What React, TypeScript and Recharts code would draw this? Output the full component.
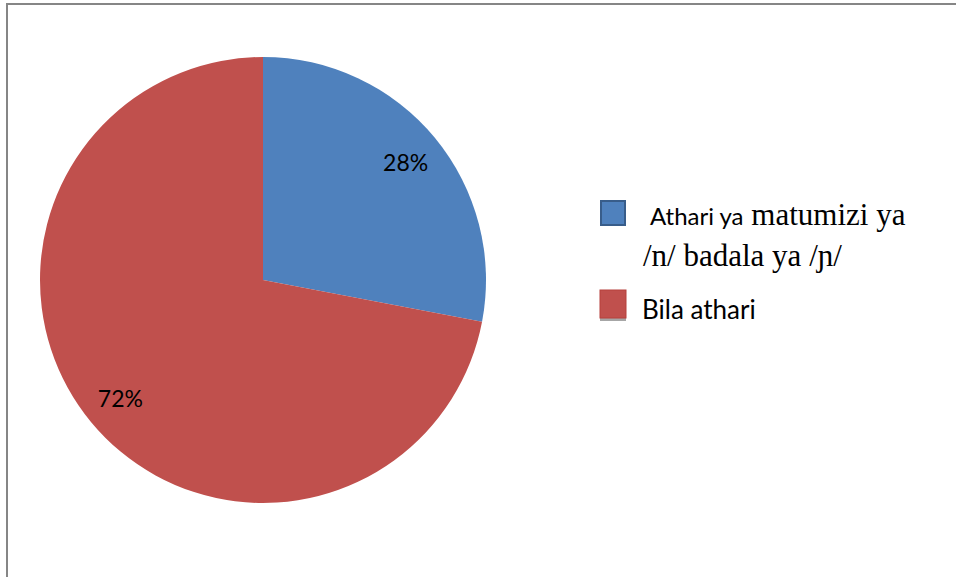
import React from "react";
import { PieChart, Pie, Cell, Legend } from "recharts";

const categories = ["Athari ya matumizi ya /n/ badala ya /ɲ/", "Bila athari"];
const values = [28, 72];
const colors = ["#4f81bd", "#c0504d"];
const borders = ["#385d8a", "#b6403d"];

const data = categories.map((name, i) => ({ name, value: values[i] }));

const RAD = Math.PI / 180;
const sans = "Lato, 'Open Sans', sans-serif";
const serif = "'Liberation Serif', 'DejaVu Serif', serif";

const renderLabel = (props: any) => {
  const { cx, cy, midAngle, outerRadius, percent } = props;
  const r = outerRadius * 0.83;
  const x = cx + r * Math.cos(-midAngle * RAD);
  const y = cy + r * Math.sin(-midAngle * RAD);
  return (
    <text
      x={x}
      y={y}
      textAnchor="middle"
      dominantBaseline="central"
      fill="#000"
      style={{ fontFamily: sans, fontSize: 23 }}
    >
      {`${Math.round(percent * 100)}%`}
    </text>
  );
};

const words0 = categories[0].split(" ");

const LegendContent = () => (
  <svg width={340} height={140} style={{ display: "block" }}>
    <rect x={11} y={11} width={24} height={24} fill={colors[0]} stroke={borders[0]} strokeWidth={2} />
    <text x={60} y={35} fill="#000">
      <tspan style={{ fontFamily: sans, fontSize: 24 }}>{words0.slice(0, 2).join(" ")}</tspan>
      <tspan style={{ fontFamily: serif, fontSize: 31 }}>{" " + words0.slice(2, 4).join(" ")}</tspan>
    </text>
    <text x={53} y={76} fill="#000" style={{ fontFamily: serif, fontSize: 31 }}>
      {words0.slice(4).join(" ")}
    </text>
    <rect x={10} y={128} width={26} height={3} fill="#a6a6a6" />
    <rect x={10} y={100} width={26} height={28} fill={colors[1]} stroke={borders[1]} strokeWidth={1} />
    <text x={52} y={129} fill="#000" style={{ fontFamily: sans, fontSize: 26 }}>
      {categories[1]}
    </text>
  </svg>
);

export default function App() {
  return (
    <div
      style={{
        position: "absolute",
        left: 0,
        top: 0,
        width: 956,
        height: 577,
        background: "#fff",
      }}
    >
      <div style={{ position: "absolute", left: 6, top: 3, width: 950, height: 2, background: "#868686" }} />
      <div style={{ position: "absolute", left: 6, top: 3, width: 2, height: 574, background: "#868686" }} />
      <PieChart
        width={956}
        height={577}
        margin={{ top: 0, right: 0, bottom: 0, left: 0 }}
        style={{ position: "absolute", left: 0, top: 0 }}
      >
        <Pie
          data={data}
          dataKey="value"
          nameKey="name"
          cx={263}
          cy={280}
          outerRadius={223}
          startAngle={90}
          endAngle={-270}
          stroke="none"
          label={renderLabel}
          labelLine={false}
          isAnimationActive={false}
        >
          {data.map((d, i) => (
            <Cell key={d.name} fill={colors[i]} />
          ))}
        </Pie>
        <Legend
          content={<LegendContent />}
          wrapperStyle={{ position: "absolute", left: 590, top: 190, width: 340, height: 140 }}
        />
      </PieChart>
    </div>
  );
}
